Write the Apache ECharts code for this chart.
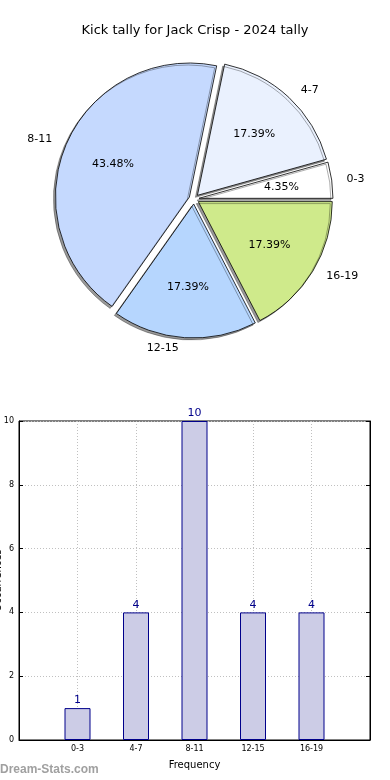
<!DOCTYPE html>
<html><head><meta charset="utf-8">
<script src="https://cdn.jsdelivr.net/npm/echarts@6/dist/echarts.min.js"></script>
<style>html,body{margin:0;padding:0;background:#fff}#c{width:390px;height:780px}</style>
</head><body><div id="c"></div>
<script>
const titleText = 'Kick tally for Jack Crisp - 2024 tally';
const categories = ['0-3', '4-7', '8-11', '12-15', '16-19'];
const tallies = [1, 4, 10, 4, 4];
const sliceColors = ['#ffffff', '#eaf1fe', '#c5d9fe', '#b6d6fe', '#cfea8b'];
const yTicks = [0, 2, 4, 6, 8, 10];
const xAxisName = 'Frequency';
const yAxisName = 'Occurrences';
const watermark = 'Dream-Stats.com';

const FONT = 'DejaVu Sans';
const chart = echarts.init(document.getElementById('c'), null, {renderer: 'canvas'});
const cx = 194, cy = 199, R = 134;
const pieData = categories.map((c, i) => ({name: c, value: tallies[i], selected: true,
  itemStyle: {color: sliceColors[i]}}));
const pieLabelData = categories.map((c, i) => ({name: c, value: tallies[i], selected: true}));
const xCats = [''].concat(categories, ['']);
const barData = [null].concat(tallies, [null]);

chart.setOption({
  animation: false,
  textStyle: {fontFamily: FONT},
  title: {text: titleText, left: 'center', top: 19,
    textStyle: {fontFamily: FONT, fontSize: 13, fontWeight: 'normal', color: '#000'}},
  graphic: [{type: 'text', left: 0, top: 764,
    style: {text: watermark, font: 'bold 12px "Liberation Sans"', fill: '#a0a0a0'}}],
  grid: {left: 19, right: 20, top: 421, bottom: 40, outerBoundsMode: 'none', containLabel: false,
    show: true, borderColor: '#000', borderWidth: 1},
  xAxis: {type: 'category', data: xCats, boundaryGap: false,
    name: xAxisName, nameLocation: 'middle', nameGap: 20, nameMoveOverlap: false,
    nameTextStyle: {fontSize: 10, color: '#000', fontFamily: FONT},
    axisLine: {lineStyle: {color: '#000'}},
    axisTick: {inside: true, length: 4, lineStyle: {color: '#000'}},
    axisLabel: {fontSize: 8, color: '#000', margin: 5, interval: 0},
    splitLine: {show: true, lineStyle: {color: '#c0c0c0', type: [1, 2]}}},
  yAxis: [{type: 'value', min: yTicks[0], max: yTicks[yTicks.length - 1], interval: 2,
    name: yAxisName, nameLocation: 'middle', nameGap: 16, nameRotate: 90, nameMoveOverlap: false,
    nameTextStyle: {fontSize: 10, color: '#000', fontFamily: FONT},
    axisLine: {show: true, lineStyle: {color: '#000'}},
    axisTick: {show: true, inside: true, length: 4, lineStyle: {color: '#000'}},
    axisLabel: {fontSize: 8, color: '#000', margin: 5},
    splitLine: {show: true, lineStyle: {color: '#c0c0c0', type: [1, 2]}}},
    {type: 'value', position: 'right', min: 0, max: 10, interval: 2,
    axisLine: {show: true, lineStyle: {color: '#000'}},
    axisTick: {show: true, inside: true, length: 4, lineStyle: {color: '#000'}},
    axisLabel: {show: false}, splitLine: {show: false}}],
  series: [
    {type: 'pie', center: [cx, cy], radius: [0, R], startAngle: 0, clockwise: false,
      selectedMode: 'multiple', selectedOffset: 5, avoidLabelOverlap: true,
      emphasis: {disabled: true}, silent: true,
      itemStyle: {borderColor: '#000', borderWidth: 0.8,
        shadowColor: 'rgba(0,0,0,0.4)', shadowBlur: 0.5, shadowOffsetX: -2, shadowOffsetY: 2},
      label: {show: true, position: 'outside', fontSize: 11, color: '#000', fontFamily: FONT,
        distanceToLabelLine: 5},
      labelLine: {show: false, length: 10, length2: 0},
      data: pieData},
    {type: 'pie', center: [cx, cy], radius: [0, R * 1.2], startAngle: 0, clockwise: false,
      selectedMode: 'multiple', selectedOffset: 5, percentPrecision: 2,
      emphasis: {disabled: true}, silent: true,
      itemStyle: {color: 'rgba(0,0,0,0)', borderWidth: 0},
      label: {show: true, position: 'inside', formatter: '{d}%', fontSize: 11, color: '#000', fontFamily: FONT},
      labelLine: {show: false},
      data: pieLabelData},
    {type: 'bar', data: barData, barWidth: 26, xAxisIndex: 0, yAxisIndex: 0,
      itemStyle: {color: '#cccce6', borderColor: '#00008b', borderWidth: 1},
      label: {show: true, position: 'top', distance: 2, fontSize: 11, color: '#00008b', fontFamily: FONT},
      emphasis: {disabled: true}}
  ]
});
</script></body></html>
